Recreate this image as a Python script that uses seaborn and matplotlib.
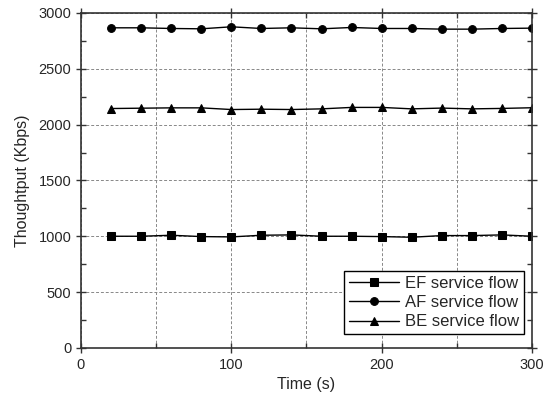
import pandas as pd
import numpy as np
import matplotlib
import matplotlib.pyplot as plt
import seaborn as sns
from matplotlib.ticker import MultipleLocator

sns.set_style('ticks')
matplotlib.rcParams['font.family'] = ['Liberation Sans', 'DejaVu Sans']

# data
time_s = [20, 40, 60, 80, 100, 120, 140, 160, 180, 200, 220, 240, 260, 280, 300]
ef_flow = [1000, 1000, 1009, 997, 994, 1009, 1012, 1000, 1000, 997, 991, 1006, 1006, 1012, 1000]
af_flow = [2867, 2867, 2861, 2858, 2876, 2861, 2867, 2858, 2870, 2861, 2861, 2855, 2855, 2861, 2864]
be_flow = [2144, 2147, 2150, 2150, 2135, 2138, 2135, 2141, 2154, 2154, 2141, 2148, 2141, 2145, 2151]
names = ['EF service flow', 'AF service flow', 'BE service flow']

df = pd.DataFrame({
    'time': time_s * 3,
    'thr': ef_flow + af_flow + be_flow,
    'flow': [names[0]] * 15 + [names[1]] * 15 + [names[2]] * 15,
})

fig = plt.figure(figsize=(5.51, 4.05), dpi=100)
ax = fig.add_axes([0.147, 0.141, 0.8185, 0.827])

sns.lineplot(data=df, x='time', y='thr', hue='flow', style='flow',
             palette=['black'] * 3, markers=['s', 'o', '^'], dashes=False,
             markersize=5.6, linewidth=1.0, markeredgecolor='black', ax=ax)

ax.set_xlim(0, 300)
ax.set_ylim(0, 3000)
ax.xaxis.set_major_locator(MultipleLocator(100))
ax.xaxis.set_minor_locator(MultipleLocator(50))
ax.yaxis.set_major_locator(MultipleLocator(500))
ax.yaxis.set_minor_locator(MultipleLocator(250))

# dashed grid: every 50 on x, every 500 on y
ax.grid(True, which='both', axis='x', linestyle=(0, (3, 2)), color='#888888', linewidth=0.7)
ax.grid(True, which='major', axis='y', linestyle=(0, (3, 2)), color='#888888', linewidth=0.7)
ax.set_axisbelow(True)

ax.tick_params(which='major', direction='inout', length=7, width=1.0, labelsize=10.5,
               top=True, right=True, color='#333333')
ax.tick_params(which='minor', direction='in', length=3.5, width=1.0,
               top=True, right=True, color='#333333')
for s in ax.spines.values():
    s.set_linewidth(1.2)
    s.set_color('#333333')

ax.set_xlabel('Time (s)', fontsize=11.5)
ax.set_ylabel('Thoughtput (Kbps)', fontsize=11.5, labelpad=6)

leg = ax.legend(loc='lower right', bbox_to_anchor=(0.983, 0.04), fontsize=12,
                frameon=True, fancybox=False, edgecolor='black', framealpha=1,
                handlelength=3.0, borderpad=0.3, labelspacing=0.25, handletextpad=0.4,
                borderaxespad=0)
leg.get_frame().set_linewidth(1.0)

plt.savefig('out.png', dpi=100)
